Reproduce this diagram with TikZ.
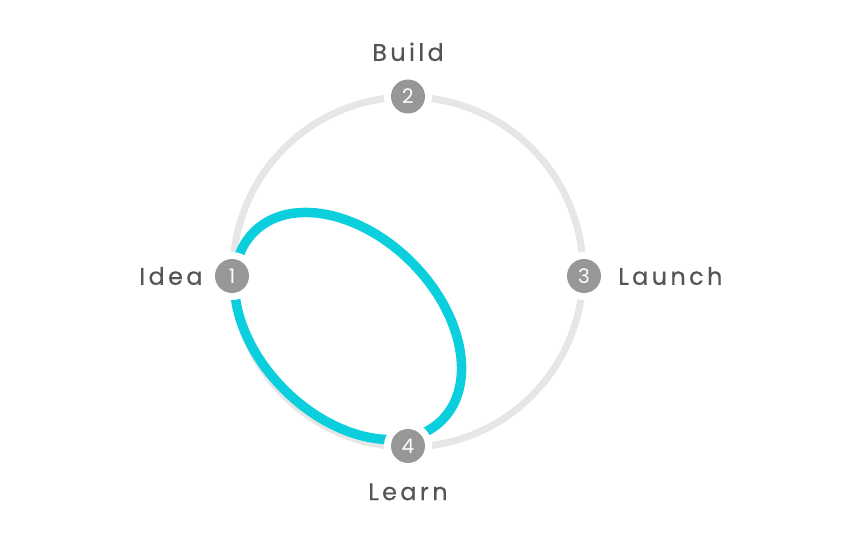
\documentclass[tikz,border=0pt]{standalone}
\usepackage{fontspec}
\setmainfont{Poppins}
\newfontfamily\labelfont[LetterSpace=14,FakeBold=0.4]{Poppins}
\usetikzlibrary{positioning}
\definecolor{ringgray}{HTML}{E6E6E6}
\definecolor{stepgray}{HTML}{979797}
\definecolor{loopcyan}{HTML}{0BCFDD}
\definecolor{labelgray}{HTML}{555555}
\tikzset{
  stepdot/.style={circle,fill=stepgray,text=white,minimum size=34pt,inner sep=0pt,
    font=\fontsize{20}{20}\selectfont,preaction={draw=white,line width=14pt}},
  steplabel/.style={text=labelgray,font=\labelfont\fontsize{24}{28}\selectfont,inner sep=0pt},
}
\begin{document}
\begin{tikzpicture}[x=1pt,y=1pt]
  \useasboundingbox (-408,-264) rectangle (436,272);
  \coordinate (c) at (0,0);
  \coordinate (lc) at (-60,-54);
  \draw[ringgray,line width=7pt] (c) circle[radius=175];
  \draw[loopcyan,line width=9.5pt,rotate around={-45:(lc)}] (lc) ellipse[x radius=133,y radius=90];
  \node[stepdot] (s1) at (-176,-4) {1};
  \node[stepdot] (s2) at (0,175.5) {2};
  \node[stepdot] (s3) at (176,-4) {3};
  \node[stepdot] (s4) at (0,-174) {4};
  \node[steplabel,left=12pt of s1] (idea) {Idea};
  \node[steplabel,above=18pt of s2] (build) {Build};
  \node[steplabel,right=17pt of s3] (launch) {Launch};
  \node[steplabel,below=20pt of s4] (learn) {Learn};
\end{tikzpicture}
\end{document}
